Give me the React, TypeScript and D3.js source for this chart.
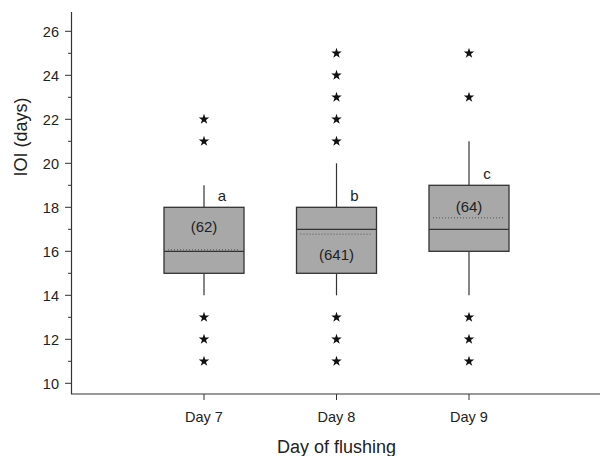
import React from "react";
import * as d3 from "d3";

const categories = ["Day 7", "Day 8", "Day 9"];
const q1 = [15, 15, 16];
const median = [16, 17, 17];
const q3 = [18, 18, 19];
const whiskerLow = [14, 14, 14];
const whiskerHigh = [19, 20, 21];
const means = [16.07, 16.78, 17.52];
const outliers = [
  [22, 21, 13, 12, 11],
  [25, 24, 23, 22, 21, 13, 12, 11],
  [25, 23, 13, 12, 11],
];
const counts = ["(62)", "(641)", "(64)"];
const countPos = [17.12, 15.83, 18.05];
const letters = ["a", "b", "c"];
const majorTicks = [10, 12, 14, 16, 18, 20, 22, 24, 26];
const minorTicks = [11, 13, 15, 17, 19, 21, 23, 25];

export default function App() {
  const W = 600, H = 456;
  const font = "Liberation Sans, Arial, Helvetica, sans-serif";
  const x = d3.scaleLinear().domain([0, 4]).range([71.5, 601.5]);
  const y = d3.scaleLinear().domain([10, 26]).range([383.3, 31.3]);
  const axisBottom = 394;
  const axisTop = 12;
  const boxW = 80;
  const star = d3.symbol().type(d3.symbolStar).size(34)() as string;
  const stroke = "#333";

  return (
    <svg width={W} height={H} style={{ position: "absolute", left: 0, top: 0, background: "#fff" }} fontFamily={font}>
      {/* axes */}
      <line x1={71.5} x2={71.5} y1={axisTop} y2={axisBottom} stroke={stroke} strokeWidth={1.2} />
      <line x1={71} x2={600} y1={axisBottom} y2={axisBottom} stroke={stroke} strokeWidth={1.2} />
      {majorTicks.map((t) => (
        <g key={"M" + t}>
          <line x1={65} x2={71.5} y1={y(t)} y2={y(t)} stroke={stroke} strokeWidth={1} />
          <text x={59} y={y(t)} dy="0.36em" textAnchor="end" fontSize={14.5} fill="#222">{t}</text>
        </g>
      ))}
      {minorTicks.map((t) => (
        <line key={"m" + t} x1={68} x2={71.5} y1={y(t)} y2={y(t)} stroke={stroke} strokeWidth={1} />
      ))}
      {categories.map((c, i) => (
        <g key={c}>
          <line x1={x(i + 1)} x2={x(i + 1)} y1={axisBottom} y2={axisBottom + 6} stroke={stroke} strokeWidth={1} />
          <text x={x(i + 1)} y={421.5} textAnchor="middle" fontSize={14.5} fill="#222">{c}</text>
        </g>
      ))}
      <text x={x(2)} y={453} textAnchor="middle" fontSize={18} fill="#222">Day of flushing</text>
      <text transform={`translate(27,137) rotate(-90)`} textAnchor="middle" fontSize={18} fill="#222">IOI (days)</text>

      {/* boxes */}
      {categories.map((c, i) => {
        const cx = x(i + 1);
        return (
          <g key={"b" + c}>
            <line x1={cx} x2={cx} y1={y(whiskerHigh[i])} y2={y(q3[i])} stroke={stroke} strokeWidth={1.2} />
            <line x1={cx} x2={cx} y1={y(q1[i])} y2={y(whiskerLow[i])} stroke={stroke} strokeWidth={1.2} />
            <rect x={cx - boxW / 2} y={y(q3[i])} width={boxW} height={y(q1[i]) - y(q3[i])} fill="#a8a8a8" stroke={stroke} strokeWidth={1.3} />
            <line x1={cx - boxW / 2 + 4} x2={cx + boxW / 2 - 4} y1={y(means[i])} y2={y(means[i])} stroke="#555" strokeWidth={1} strokeDasharray="1,2" />
            <line x1={cx - boxW / 2} x2={cx + boxW / 2} y1={y(median[i])} y2={y(median[i])} stroke={stroke} strokeWidth={1.3} />
            <text x={cx} y={y(countPos[i])} dy="0.36em" textAnchor="middle" fontSize={15} fill="#222">{counts[i]}</text>
            <text x={cx + 18} y={y(q3[i]) - 6} textAnchor="middle" fontSize={15} fill="#222">{letters[i]}</text>
            {outliers[i].map((v, j) => (
              <path key={j} d={star} transform={`translate(${cx},${y(v)})`} fill="#111" />
            ))}
          </g>
        );
      })}
    </svg>
  );
}
